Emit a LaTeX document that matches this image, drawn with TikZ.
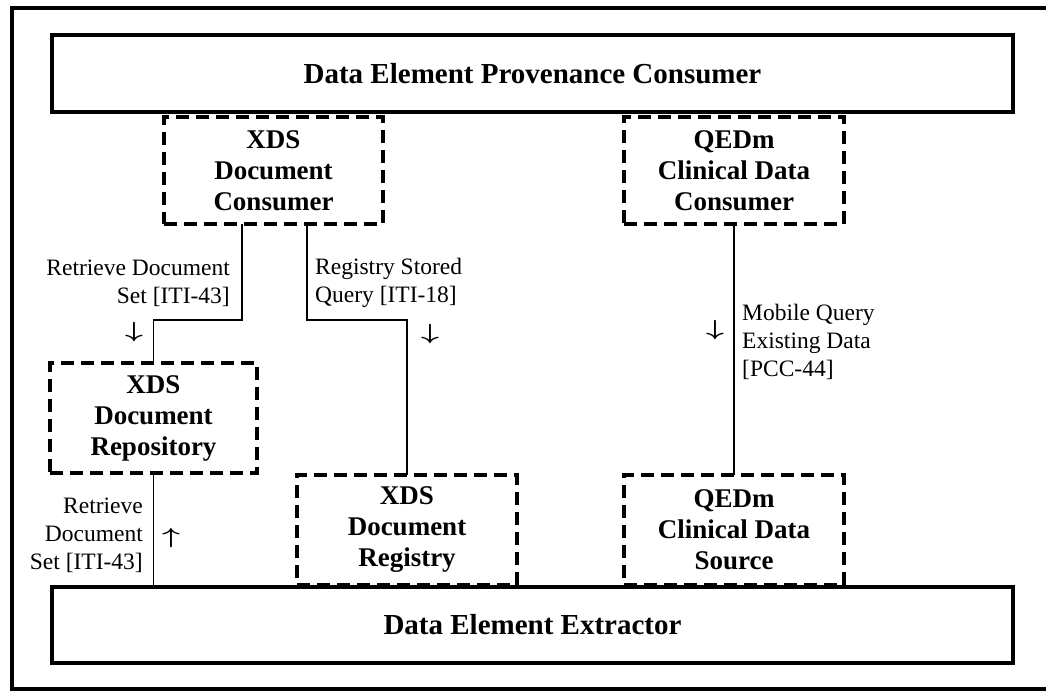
\documentclass[tikz,border=0pt]{standalone}
\usepackage{fontspec}
\setmainfont{Liberation Serif}
\usetikzlibrary{positioning}
\newcommand{\dnmark}{\scalebox{1.5}[1.05]{$\downarrow$}}
\newcommand{\upmark}{\scalebox{1.5}[1.05]{$\uparrow$}}

\begin{document}
\begin{tikzpicture}[x=1pt, y=-1pt,
            groupnode/.style={rectangle, draw=black, line width=3.5pt, inner sep=0pt, outer sep=0pt, font=\fontsize{29}{33}\selectfont\bfseries},
            actornode/.style={rectangle, draw=black, line width=3.5pt, dash pattern=on 13pt off 7pt, inner sep=0pt, outer sep=0pt, minimum width=220pt, minimum height=110pt, align=center, font=\fontsize{27}{31}\selectfont\bfseries},
            link/.style={line width=1.8pt},
            txnlabel/.style={inner sep=0pt, font=\fontsize{23.5}{28}\selectfont},
            dirmark/.style={inner sep=0pt, font=\fontsize{21}{24}\selectfont\boldmath},
            ]
            \useasboundingbox (0,0) rectangle (1046,691);
            \draw[line width=4pt] (12,8) rectangle (1060,689);

            %Nodes
            \node[groupnode, minimum width=961pt, minimum height=77pt] (provcons) at (532.5,73.5) {Data Element Provenance Consumer};
            \node[groupnode, minimum width=961pt, minimum height=76pt] (extractor) at (532.5,625) {Data Element Extractor};

            \node[actornode, minimum width=219pt, minimum height=107pt] (xdscons) at (273.5,170.5) {XDS\\Document\\Consumer};
            \node[actornode, minimum height=107pt] (qedmcons) at (734,170.5) {QEDm\\Clinical Data\\Consumer};
            \node[actornode, minimum width=207pt] (xdsrepo) at (153.5,418) {XDS\\Document\\Repository};
            \node[actornode] (xdsreg) at (407,530) {XDS\\Document\\Registry};
            \node[actornode] (qedmsrc) at (734,530) {QEDm\\Clinical Data\\Source};

            %Lines
            \draw[link] ([xshift=-31.5pt]xdscons.south) -- ++(0,96) coordinate (rettop) -| (xdsrepo.north);
            \draw[link] ([xshift=33.5pt]xdscons.south) -- ++(0,96) coordinate (regtop) -| (xdsreg.north);
            \draw[link] (xdsrepo.south) -- (xdsrepo.south |- extractor.north);
            \draw[link] (qedmcons.south) -- (qedmsrc.north);

            %Labels
            \node[txnlabel, align=right, anchor=east] (retlbl) at (230,283) {Retrieve Document\\{}Set [ITI-43]};
            \node[txnlabel, align=left, anchor=west] (reglbl) at (315,283) {Registry Stored\\{}Query [ITI-18]};
            \node[txnlabel, align=right, anchor=east] (extlbl) at (143,535) {Retrieve\\Document\\{}Set [ITI-43]};
            \node[txnlabel, align=left, anchor=west] (mqlbl) at (742,342) {Mobile Query\\Existing Data\\{}[PCC-44]};

            \node[dirmark] (retdir) at (134,332) {\dnmark};
            \node[dirmark] (regdir) at (430,334) {\dnmark};
            \node[dirmark] (extdir) at (171,538) {\upmark};
            \node[dirmark] (mqdir) at (715,330) {\dnmark};

        \end{tikzpicture}
\end{document}
